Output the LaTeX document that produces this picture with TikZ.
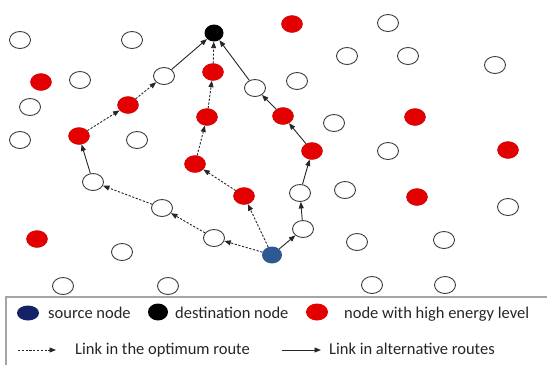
\documentclass[tikz,border=0pt]{standalone}
\usepackage{fontspec}
\setmainfont{Carlito}
\usetikzlibrary{shapes.geometric,arrows.meta}
\definecolor{nred}{RGB}{228,0,0}
\definecolor{nblue}{RGB}{46,88,146}
\definecolor{lblue}{RGB}{22,34,104}
\definecolor{nedge}{RGB}{60,60,60}
\definecolor{boxgray}{RGB}{165,165,165}
\tikzset{
  base/.style={ellipse,inner sep=0pt,minimum width=21pt,minimum height=17pt},
  wnode/.style={base,draw=nedge,line width=0.9pt,fill=white},
  rnode/.style={base,draw=nred!85!black,line width=0.4pt,fill=nred},
  dnode/.style={base,minimum width=19pt,fill=black},
  snode/.style={base,minimum width=20pt,fill=nblue},
  lnk/.style={line width=0.9pt,draw=black!85,-{Triangle[length=6.5pt,width=5pt]}},
  opt/.style={lnk,dash pattern=on 2.2pt off 1.6pt},
  alt/.style={lnk},
  ltext/.style={anchor=base west,inner sep=0pt,font=\fontsize{16.5}{18}\selectfont,text=black!85}
}
\begin{document}
\begin{tikzpicture}[x=1pt,y=-1pt]
\useasboundingbox (0,0) rectangle (547,365);
% white nodes
\node[wnode] (w1) at (20,40) {};
\node[wnode] (w2) at (132,40) {};
\node[wnode] (w3) at (388,23) {};
\node[wnode] (w4) at (347,56) {};
\node[wnode] (w5) at (408,56) {};
\node[wnode] (w6) at (495,65) {};
\node[wnode] (w7) at (80,80) {};
\node[wnode] (w8) at (164,76) {};
\node[wnode] (w9) at (255,88) {};
\node[wnode] (w10) at (297,81) {};
\node[wnode] (w11) at (30,107) {};
\node[wnode] (w12) at (20,140) {};
\node[wnode] (w13) at (137,140) {};
\node[wnode] (w14) at (334,123) {};
\node[wnode] (w15) at (388,151) {};
\node[wnode] (w16) at (93,182) {};
\node[wnode] (w17) at (162,208) {};
\node[wnode] (w18) at (214,238) {};
\node[wnode] (w19) at (300,193) {};
\node[wnode] (w20) at (303,229) {};
\node[wnode] (w21) at (345,190) {};
\node[wnode] (w22) at (508,207) {};
\node[wnode] (w23) at (357,242) {};
\node[wnode] (w24) at (444,240) {};
\node[wnode] (w25) at (122,252) {};
\node[wnode] (w26) at (63,286) {};
\node[wnode] (w27) at (168,286) {};
\node[wnode] (w28) at (372,285) {};
\node[wnode] (w29) at (445,285) {};
% red nodes
\node[rnode] (r1) at (292,24) {};
\node[rnode] (r2) at (41,82) {};
\node[rnode] (r3) at (213,72) {};
\node[rnode] (r4) at (128,105) {};
\node[rnode] (r5) at (207,117) {};
\node[rnode] (r6) at (283,116) {};
\node[rnode] (r7) at (415,117) {};
\node[rnode] (r8) at (79,136) {};
\node[rnode] (r9) at (312,151) {};
\node[rnode] (r10) at (508,150) {};
\node[rnode] (r11) at (195,164) {};
\node[rnode] (r12) at (244,196) {};
\node[rnode] (r13) at (417,197) {};
\node[rnode] (r14) at (37,239) {};
% destination and source
\node[dnode] (d) at (214,33) {};
\node[snode] (s) at (272,255) {};
% optimum route
\draw[opt] (s) -- (r12);
\draw[opt] (r12) -- (r11);
\draw[opt] (r11) -- (r5);
\draw[opt] (r5) -- (r3);
\draw[opt] (r3) -- (d);
% left alternative route
\draw[opt] (s) -- (w18);
\draw[opt] (w18) -- (w17);
\draw[opt] (w17) -- (w16);
\draw[alt] (w16) -- (r8);
\draw[opt] (r8) -- (r4);
\draw[opt] (r4) -- (w8);
\draw[alt] (w8) -- (d);
% right alternative route
\draw[alt] (s) -- (w20);
\draw[alt] (w20) -- (w19);
\draw[alt] (w19) -- (r9);
\draw[alt] (r9) -- (r6);
\draw[alt] (r6) -- (w9);
\draw[alt] (w9) -- (d);
% legend frame
\coordinate (bl) at (6,365);
\coordinate (tl) at (6,297);
\coordinate (tr) at (547,297);
\draw[boxgray,line width=1.6pt] (bl) -- (tl) -- (tr);
% legend row 1
\node[base,minimum width=22pt,minimum height=15pt,fill=lblue] (ls) at (28,313) {};
\node[ltext] (lst) at (48,318) {source node};
\node[dnode,minimum width=20pt] (ld) at (158,312) {};
\node[ltext] (ldt) at (175,318) {destination node};
\node[base,minimum width=22pt,fill=nred] (lr) at (317,312) {};
\node[ltext] (lrt) at (344,318) {node with high energy level};
% legend row 2
\coordinate (la1) at (18,350);
\coordinate (la2) at (56,350);
\draw[opt] (la1) -- (la2);
\node[ltext] (lot) at (75,354) {Link in the optimum route};
\coordinate (lb1) at (282,350);
\coordinate (lb2) at (321,350);
\draw[alt] (lb1) -- (lb2);
\node[ltext] (lat) at (329,354) {Link in alternative routes};
\end{tikzpicture}
\end{document}
